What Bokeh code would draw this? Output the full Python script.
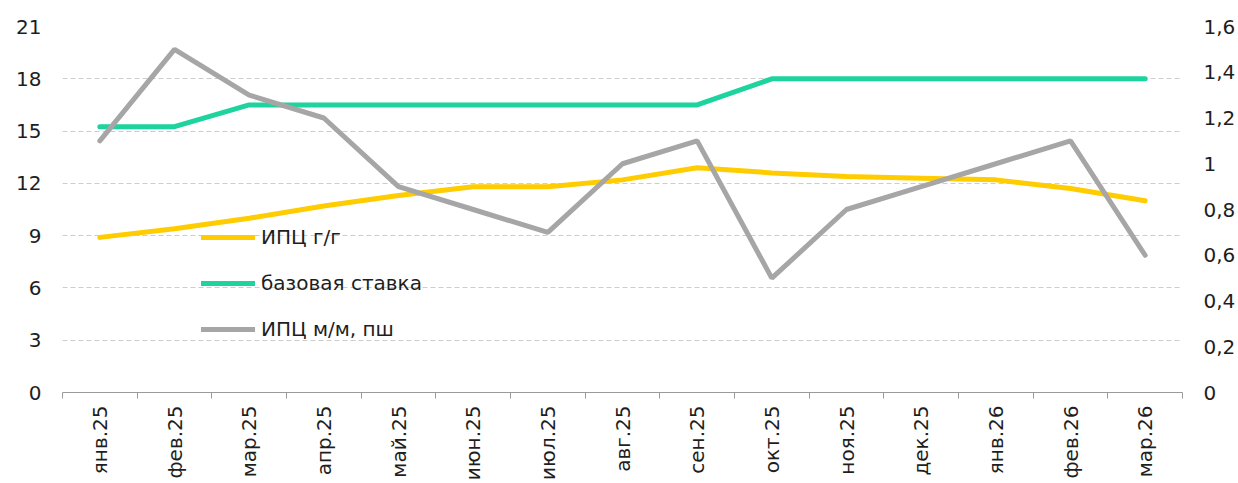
import math
from bokeh.plotting import figure
from bokeh.models import (Range1d, LinearAxis, FixedTicker, CustomJSTickFormatter,
                          Legend, LegendItem, ColumnDataSource)
from bokeh.embed import file_html
from bokeh.resources import INLINE

months = ["янв.25", "фев.25", "мар.25", "апр.25", "май.25", "июн.25", "июл.25",
          "авг.25", "сен.25", "окт.25", "ноя.25", "дек.25", "янв.26", "фев.26", "мар.26"]
cpi_yoy = [8.9, 9.4, 10.0, 10.7, 11.3, 11.8, 11.8, 12.2, 12.9, 12.6, 12.4, 12.3, 12.2, 11.7, 11.0]
base_rate = [15.25, 15.25, 16.5, 16.5, 16.5, 16.5, 16.5, 16.5, 16.5, 18.0, 18.0, 18.0, 18.0, 18.0, 18.0]
cpi_mom = [1.1, 1.5, 1.3, 1.2, 0.9, 0.8, 0.7, 1.0, 1.1, 0.5, 0.8, 0.9, 1.0, 1.1, 0.6]
left_ticks = [0, 3, 6, 9, 12, 15, 18, 21]
right_ticks = [0, 0.2, 0.4, 0.6, 0.8, 1.0, 1.2, 1.4, 1.6]

FONT = "DejaVu Sans"
TXT = "#1e1e1e"
FS = "20px"

xpos = [i + 0.5 for i in range(len(months))]
src = ColumnDataSource(dict(x=xpos, yoy=cpi_yoy, rate=base_rate, mom=cpi_mom))

p = figure(width=1238, height=483, output_backend="svg", toolbar_location=None,
           x_range=Range1d(0, len(months)), y_range=Range1d(0, 21),
           min_border_left=62, min_border_right=56, min_border_top=26, min_border_bottom=10)
p.outline_line_color = None
p.background_fill_color = "white"
p.border_fill_color = "white"
p.extra_y_ranges = {"r": Range1d(0, 1.6)}

# x axis
xa = p.xaxis[0]
xa.ticker = FixedTicker(ticks=xpos, minor_ticks=list(range(len(months) + 1)))
xa.major_label_overrides = {x: m for x, m in zip(xpos, months)}
xa.major_label_orientation = math.pi / 2
xa.major_tick_line_color = None
xa.major_tick_out = 0
xa.minor_tick_out = 6
xa.minor_tick_in = 0
xa.minor_tick_line_color = "#9a9a9a"
xa.axis_line_color = "#9a9a9a"
xa.major_label_standoff = 7
xa.major_label_text_font = FONT
xa.major_label_text_font_size = FS
xa.major_label_text_color = TXT

# left axis
ya = p.yaxis[0]
ya.ticker = FixedTicker(ticks=left_ticks)
ya.axis_line_color = None
ya.major_tick_line_color = None
ya.minor_tick_line_color = None
ya.major_tick_out = 0
ya.major_label_standoff = 21
ya.major_label_text_font = FONT
ya.major_label_text_font_size = FS
ya.major_label_text_color = TXT

# right axis
ra = LinearAxis(y_range_name="r")
ra.ticker = FixedTicker(ticks=right_ticks)
ra.formatter = CustomJSTickFormatter(code="""
var s = tick.toFixed(1).replace('.', ',');
if (s.endsWith(',0')) { s = s.slice(0, -2); }
return s;
""")
ra.axis_line_color = None
ra.major_tick_line_color = None
ra.minor_tick_line_color = None
ra.major_tick_out = 0
ra.major_label_standoff = 21
ra.major_label_text_font = FONT
ra.major_label_text_font_size = FS
ra.major_label_text_color = TXT
p.add_layout(ra, "right")

p.xgrid.grid_line_color = None
p.ygrid.ticker = FixedTicker(ticks=left_ticks[1:])
p.ygrid.grid_line_color = "#cccccc"
p.ygrid.grid_line_dash = "5 3"
p.ygrid.grid_line_width = 1

r1 = p.line("x", "yoy", source=src, line_color="#FFCC00", line_width=5, line_cap="round")
r2 = p.line("x", "rate", source=src, line_color="#1DD39E", line_width=5, line_cap="round")
r3 = p.line("x", "mom", source=src, y_range_name="r", line_color="#A6A6A6", line_width=5,
            line_cap="round")

legend = Legend(items=[LegendItem(label="ИПЦ г/г", renderers=[r1]),
                       LegendItem(label="базовая ставка", renderers=[r2]),
                       LegendItem(label="ИПЦ м/м, пш", renderers=[r3])],
                location=(139, 51))
legend.background_fill_alpha = 0
legend.border_line_color = None
legend.padding = 0
legend.margin = 0
legend.spacing = 22
legend.glyph_width = 54
legend.glyph_height = 22
legend.label_height = 22
legend.label_standoff = 6
legend.label_text_font = FONT
legend.label_text_font_size = FS
legend.label_text_color = TXT
p.add_layout(legend, "center")

open("out.html", "w").write(file_html(p, INLINE))
